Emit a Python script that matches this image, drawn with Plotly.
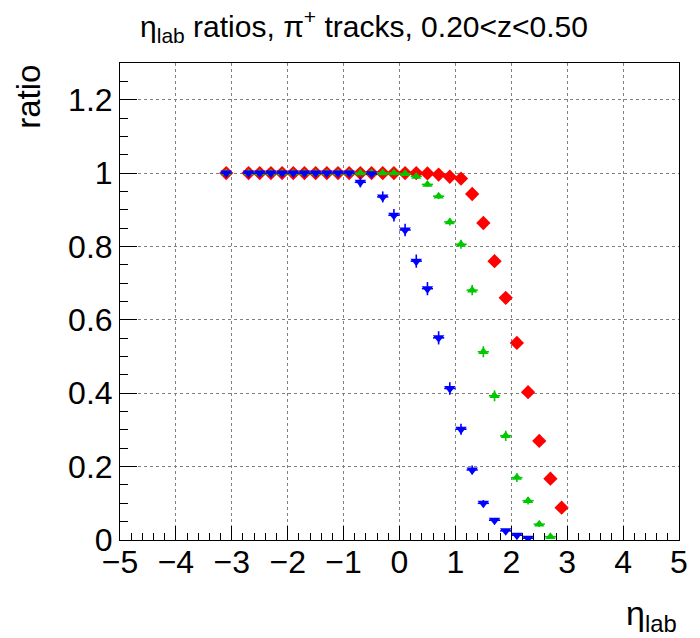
import plotly.graph_objects as go

# bin centres
x_red = [-3.1, -2.7, -2.5, -2.3, -2.1, -1.9, -1.7, -1.5, -1.3, -1.1, -0.9, -0.7, -0.5, -0.3, -0.1,
         0.1, 0.3, 0.5, 0.7, 0.9, 1.1, 1.3, 1.5, 1.7, 1.9, 2.1, 2.3, 2.5, 2.7, 2.9]
y_red = [1.0, 1.0, 1.0, 1.0, 1.0, 1.0, 1.0, 1.0, 1.0, 1.0, 1.0, 1.0, 1.0, 1.0, 1.0,
         1.0, 1.0, 0.999, 0.996, 0.990, 0.985, 0.943, 0.864, 0.760, 0.660, 0.537, 0.403, 0.270, 0.167, 0.088]
e_red = [0.001] * 17 + [0.002, 0.003, 0.004, 0.005, 0.007, 0.009, 0.010, 0.011, 0.011, 0.011, 0.010, 0.009, 0.007]

x_green = [-3.1, -2.7, -2.5, -2.3, -2.1, -1.9, -1.7, -1.5, -1.3, -1.1, -0.9, -0.7, -0.5, -0.3, -0.1,
           0.1, 0.3, 0.5, 0.7, 0.9, 1.1, 1.3, 1.5, 1.7, 1.9, 2.1, 2.3, 2.5, 2.7]
y_green = [1.0, 1.0, 1.0, 1.0, 1.0, 1.0, 1.0, 1.0, 1.0, 1.0, 1.0, 1.0, 1.0, 1.0, 1.0,
           0.998, 0.991, 0.969, 0.937, 0.867, 0.806, 0.681, 0.513, 0.393, 0.284, 0.170, 0.107, 0.043, 0.009]
e_green = [0.001] * 15 + [0.002, 0.004, 0.006, 0.008, 0.010, 0.012, 0.014, 0.015, 0.015, 0.014, 0.012, 0.010, 0.007, 0.004]

x_blue = [-3.1, -2.7, -2.5, -2.3, -2.1, -1.9, -1.7, -1.5, -1.3, -1.1, -0.9, -0.7, -0.5, -0.3, -0.1,
          0.1, 0.3, 0.5, 0.7, 0.9, 1.1, 1.3, 1.5, 1.7, 1.9, 2.1, 2.3]
y_blue = [1.0, 1.0, 1.0, 1.0, 1.0, 1.0, 1.0, 1.0, 1.0, 1.0, 1.0, 0.975, 0.998, 0.935, 0.885,
          0.845, 0.760, 0.685, 0.551, 0.413, 0.302, 0.191, 0.100, 0.054, 0.025, 0.013, 0.005]
e_blue = [0.001] * 11 + [0.014, 0.004, 0.015, 0.017, 0.017, 0.018, 0.018, 0.018, 0.017, 0.015,
                         0.012, 0.009, 0.006, 0.004, 0.003, 0.002]

half_width = 0.1

x_ticks = [-5, -4, -3, -2, -1, 0, 1, 2, 3, 4, 5]
y_ticks = [0, 0.2, 0.4, 0.6, 0.8, 1, 1.2]
y_tick_text = ["0", "0.2", "0.4", "0.6", "0.8", "1", "1.2"]

series = [
    ("red", x_red, y_red, e_red, "#ff0000", "diamond", 11),
    ("green", x_green, y_green, e_green, "#00c800", "triangle-up", 9),
    ("blue", x_blue, y_blue, e_blue, "#0000ff", "triangle-down", 10),
]

fig = go.Figure()
for name, xs, ys, es, col, sym, sz in series:
    fig.add_trace(go.Scatter(
        x=xs, y=ys, mode="markers", name=name,
        marker=dict(symbol=sym, size=sz, color=col, line=dict(width=0)),
        error_x=dict(type="constant", value=half_width, color=col, thickness=1.6, width=0),
        error_y=dict(type="data", array=es, color=col, thickness=1.6, width=0),
        showlegend=False,
    ))

font = "Liberation Sans, Arial, Helvetica, sans-serif"
fig.update_layout(
    width=700, height=638,
    margin=dict(l=120, r=14, t=63, b=98),
    paper_bgcolor="white", plot_bgcolor="white",
    font=dict(family=font, color="black"),
    title=dict(text="η<sub>lab</sub> ratios, π<sup>+</sup> tracks, 0.20&lt;z&lt;0.50",
               x=0.52, xanchor="center", y=0.975, yanchor="top",
               font=dict(size=30, family=font)),
    xaxis=dict(range=[-5, 5], tickvals=x_ticks, tickfont=dict(size=32),
               ticks="inside", ticklen=14, tickwidth=1, tickcolor="black",
               ticklabelstandoff=-6,
               minor=dict(dtick=0.2, ticks="inside", ticklen=7, tickcolor="black", showgrid=False),
               showline=True, linecolor="black", linewidth=1, mirror=True,
               showgrid=True, gridcolor="#808080", griddash="dot", gridwidth=1,
               zeroline=False),
    yaxis=dict(range=[0, 1.3], tickvals=y_ticks, ticktext=y_tick_text, tickfont=dict(size=32),
               ticks="inside", ticklen=17, tickwidth=1, tickcolor="black",
               minor=dict(dtick=0.05, ticks="inside", ticklen=8, tickcolor="black", showgrid=False),
               showline=True, linecolor="black", linewidth=1, mirror=True,
               showgrid=True, gridcolor="#808080", griddash="dot", gridwidth=1,
               zeroline=False),
    annotations=[
        dict(text="ratio", xref="paper", yref="paper", x=-0.165, y=1.0,
             xanchor="center", yanchor="top", textangle=-90, showarrow=False,
             font=dict(size=33, family=font)),
        dict(text="η<sub>lab</sub>", xref="paper", yref="paper", x=1.0, y=-0.11,
             xanchor="right", yanchor="top", showarrow=False,
             font=dict(size=34, family=font)),
    ],
)

fig.write_html("out.html")
